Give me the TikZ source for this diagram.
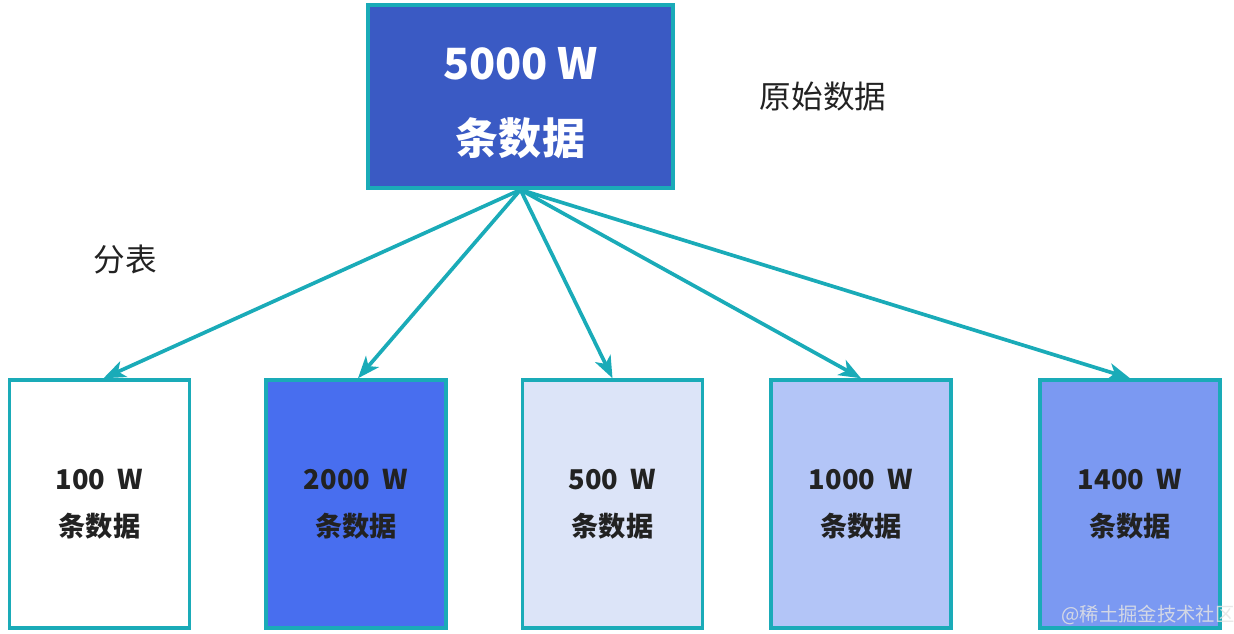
\documentclass[tikz,border=0pt]{standalone}
\usepackage{fontspec}
\setmainfont{Noto Sans CJK SC}
\usepackage{xcolor}
\usetikzlibrary{arrows.meta}
\definecolor{edgeteal}{RGB}{26,171,184}
\definecolor{topblue}{RGB}{58,90,196}
\definecolor{boxwhite}{RGB}{255,255,255}
\definecolor{boxroyal}{RGB}{72,110,239}
\definecolor{boxpale}{RGB}{220,228,248}
\definecolor{boxlight}{RGB}{179,197,247}
\definecolor{boxmid}{RGB}{123,153,242}
\definecolor{textdark}{RGB}{34,34,34}
\tikzset{
  rootbox/.style={
    rectangle,
    draw=edgeteal,
    line width=2pt,
    minimum width=6.1cm,
    minimum height=3.66cm,
    align=center,
    font=\fontsize{24.5}{43}\selectfont\bfseries,
    text=white,
    fill=topblue
  },
  partbox/.style={
    rectangle,
    draw=edgeteal,
    line width=2pt,
    minimum width=3.6cm,
    minimum height=4.96cm,
    align=center,
    font=\fontsize{15.5}{26.5}\selectfont\bfseries,
    text=textdark
  },
  caption/.style={font=\fontsize{18}{22}\selectfont, text=textdark},
  flow/.style={-{Stealth[length=4.4mm,width=3.4mm,inset=1.2mm]}, line width=2.1pt, edgeteal}
}

\begin{document}
\begin{tikzpicture}[x=0.02cm,y=-0.02cm]
\useasboundingbox (0,0) rectangle (1234,634);
\node[rootbox] (src) at (520.5,96.5) {\rule{0pt}{0.9cm}5000 W\\条数据};
\node[caption] (srclabel) at (823,97) {原始数据};
\node[caption] (splitlabel) at (125,260) {分表};
\node[partbox, fill=boxwhite] (p1) at (99.5,504) {100\ \ W\\条数据};
\node[partbox, fill=boxroyal] (p2) at (356,504) {2000\ \ W\\条数据};
\node[partbox, fill=boxpale] (p3) at (612.5,504) {500\ \ W\\条数据};
\node[partbox, fill=boxlight] (p4) at (861,504) {1000\ \ W\\条数据};
\node[partbox, fill=boxmid] (p5) at (1130,504) {1400\ \ W\\条数据};
\draw[flow] (src.south) -- ([xshift=0.08cm]p1.north);
\draw[flow] (src.south) -- ([xshift=0.04cm]p2.north);
\draw[flow] (src.south) -- (p3.north);
\draw[flow] (src.south) -- (p4.north);
\draw[flow] (src.south) -- (p5.north);
% watermark
\node[font=\fontsize{11}{13}\selectfont, text=white!78!gray, opacity=0.85] (mark) at (1148,615) {@稀土掘金技术社区};
\end{tikzpicture}
\end{document}
